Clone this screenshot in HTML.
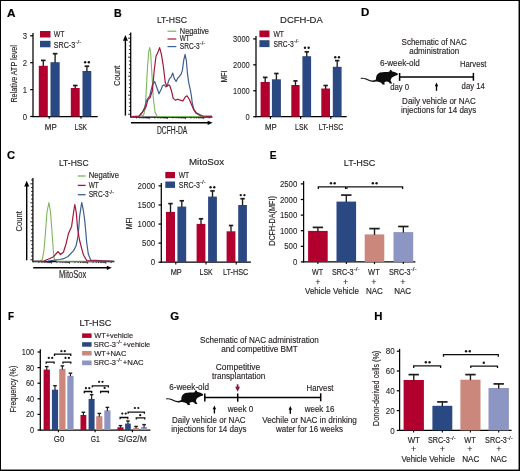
<!DOCTYPE html>
<html><head><meta charset="utf-8"><style>
html,body{margin:0;padding:0;background:#fff;overflow:hidden}
svg{display:block}
text{font-family:"Liberation Sans",sans-serif}
</style></head><body>
<svg width="520" height="471" viewBox="0 0 520 471">
<rect x="0" y="0" width="520" height="471" fill="#000"/>
<rect x="1" y="1" width="517.55" height="468.55" fill="#fff"/>
<defs><filter id="bl" x="0" y="0" width="520" height="471" filterUnits="userSpaceOnUse"><feGaussianBlur stdDeviation="0.3"/></filter></defs>
<g filter="url(#bl)">
<text x="7" y="16.8" font-size="11.5" fill="#000" font-weight="bold" textLength="8.5" lengthAdjust="spacingAndGlyphs" stroke="#000" stroke-width="0.2">A</text>
<text x="113.9" y="16.6" font-size="11.5" fill="#000" font-weight="bold" textLength="7.7" lengthAdjust="spacingAndGlyphs" stroke="#000" stroke-width="0.2">B</text>
<text x="361.1" y="16.3" font-size="11.5" fill="#000" font-weight="bold" textLength="8.3" lengthAdjust="spacingAndGlyphs" stroke="#000" stroke-width="0.2">D</text>
<text x="7.1" y="159.2" font-size="11.5" fill="#000" font-weight="bold" textLength="8" lengthAdjust="spacingAndGlyphs" stroke="#000" stroke-width="0.2">C</text>
<text x="269.8" y="159.2" font-size="11.5" fill="#000" font-weight="bold" textLength="6.8" lengthAdjust="spacingAndGlyphs" stroke="#000" stroke-width="0.2">E</text>
<text x="7.9" y="319.6" font-size="11.5" fill="#000" font-weight="bold" textLength="6" lengthAdjust="spacingAndGlyphs" stroke="#000" stroke-width="0.2">F</text>
<text x="170.3" y="319.7" font-size="11.5" fill="#000" font-weight="bold" textLength="8.9" lengthAdjust="spacingAndGlyphs" stroke="#000" stroke-width="0.2">G</text>
<text x="374.2" y="319.6" font-size="11.5" fill="#000" font-weight="bold" textLength="8.2" lengthAdjust="spacingAndGlyphs" stroke="#000" stroke-width="0.2">H</text>
<line x1="33" y1="33" x2="33" y2="117.1" stroke="#000" stroke-width="1.25"/>
<line x1="30.2" y1="116.5" x2="33" y2="116.5" stroke="#000" stroke-width="1.25"/>
<text x="22.7" y="119.6" font-size="9.4" fill="#231f20" textLength="4.3" lengthAdjust="spacingAndGlyphs" stroke="#231f20" stroke-width="0.1">0</text>
<line x1="30.2" y1="89.6" x2="33" y2="89.6" stroke="#000" stroke-width="1.25"/>
<text x="22.7" y="92.7" font-size="9.4" fill="#231f20" textLength="4.3" lengthAdjust="spacingAndGlyphs" stroke="#231f20" stroke-width="0.1">1</text>
<line x1="30.2" y1="62.7" x2="33" y2="62.7" stroke="#000" stroke-width="1.25"/>
<text x="22.7" y="65.8" font-size="9.4" fill="#231f20" textLength="4.3" lengthAdjust="spacingAndGlyphs" stroke="#231f20" stroke-width="0.1">2</text>
<line x1="30.2" y1="35.8" x2="33" y2="35.8" stroke="#000" stroke-width="1.25"/>
<text x="22.7" y="38.9" font-size="9.4" fill="#231f20" textLength="4.3" lengthAdjust="spacingAndGlyphs" stroke="#231f20" stroke-width="0.1">3</text>
<line x1="32.4" y1="116.5" x2="97.7" y2="116.5" stroke="#000" stroke-width="1.25"/>
<line x1="49.2" y1="116.5" x2="49.2" y2="118.7" stroke="#000" stroke-width="1.1"/>
<line x1="81" y1="116.5" x2="81" y2="118.7" stroke="#000" stroke-width="1.1"/>
<rect x="38.8" y="65.8" width="9" height="50.7" fill="#b1002d"/>
<line x1="43.3" y1="60.4" x2="43.3" y2="66.3" stroke="#1c1c1c" stroke-width="1.35"/>
<line x1="41" y1="60.4" x2="45.6" y2="60.4" stroke="#1c1c1c" stroke-width="1.7"/>
<rect x="50.5" y="62.2" width="9.2" height="54.3" fill="#2c4883"/>
<line x1="55.1" y1="53.7" x2="55.1" y2="62.7" stroke="#1c1c1c" stroke-width="1.35"/>
<line x1="52.8" y1="53.7" x2="57.4" y2="53.7" stroke="#1c1c1c" stroke-width="1.7"/>
<rect x="70.8" y="88" width="8.9" height="28.5" fill="#b1002d"/>
<line x1="75.25" y1="85.5" x2="75.25" y2="88.5" stroke="#1c1c1c" stroke-width="1.35"/>
<line x1="72.95" y1="85.5" x2="77.55" y2="85.5" stroke="#1c1c1c" stroke-width="1.7"/>
<rect x="82.5" y="71" width="8.8" height="45.5" fill="#2c4883"/>
<line x1="86.9" y1="66.2" x2="86.9" y2="71.5" stroke="#1c1c1c" stroke-width="1.35"/>
<line x1="84.6" y1="66.2" x2="89.2" y2="66.2" stroke="#1c1c1c" stroke-width="1.7"/>
<circle cx="85.15" cy="62.2" r="1.2" fill="#161616"/>
<circle cx="88.85" cy="62.2" r="1.2" fill="#161616"/>
<rect x="40" y="31" width="10.5" height="6.5" fill="#b1002d"/>
<rect x="40" y="40.8" width="10.5" height="6.5" fill="#2c4883"/>
<text x="53.7" y="36.9" font-size="9.2" fill="#231f20" textLength="10.7" lengthAdjust="spacingAndGlyphs" stroke="#231f20" stroke-width="0.16">WT</text>
<text x="53.7" y="47.6" font-size="9.2" fill="#231f20" textLength="21.57" lengthAdjust="spacingAndGlyphs" stroke="#231f20" stroke-width="0.16">SRC-3</text>
<text x="75.47" y="43.92" font-size="6.26" fill="#231f20" textLength="5.73" lengthAdjust="spacingAndGlyphs" stroke="#231f20" stroke-width="0.16">-/-</text>
<text x="44.8" y="129.6" font-size="8.4" fill="#231f20" textLength="11.9" lengthAdjust="spacingAndGlyphs" stroke="#231f20" stroke-width="0.16">MP</text>
<text x="74.4" y="129.6" font-size="8.4" fill="#231f20" textLength="12.7" lengthAdjust="spacingAndGlyphs" stroke="#231f20" stroke-width="0.16">LSK</text>
<text transform="translate(13.7,73.9) rotate(-90)" x="0" y="3.24" font-size="9" text-anchor="middle" textLength="57.3" lengthAdjust="spacingAndGlyphs" fill="#231f20" stroke="#231f20" stroke-width="0.16">Relative ATP level</text>
<line x1="125.4" y1="38" x2="125.4" y2="115.6" stroke="#000" stroke-width="1.4"/>
<path d="M122.9 40.8L125.4 35L127.9 40.8Z" fill="#000" stroke="none" stroke-width="1" />
<line x1="130.7" y1="32.4" x2="130.7" y2="117.6" stroke="#000" stroke-width="1.25"/>
<line x1="128.9" y1="34.4" x2="130.7" y2="34.4" stroke="#000" stroke-width="0.85"/>
<line x1="128.1" y1="38.2" x2="130.7" y2="38.2" stroke="#000" stroke-width="0.85"/>
<line x1="128.9" y1="42" x2="130.7" y2="42" stroke="#000" stroke-width="0.85"/>
<line x1="128.9" y1="45.8" x2="130.7" y2="45.8" stroke="#000" stroke-width="0.85"/>
<line x1="128.9" y1="49.6" x2="130.7" y2="49.6" stroke="#000" stroke-width="0.85"/>
<line x1="128.9" y1="53.4" x2="130.7" y2="53.4" stroke="#000" stroke-width="0.85"/>
<line x1="128.1" y1="57.2" x2="130.7" y2="57.2" stroke="#000" stroke-width="0.85"/>
<line x1="128.9" y1="61" x2="130.7" y2="61" stroke="#000" stroke-width="0.85"/>
<line x1="128.9" y1="64.8" x2="130.7" y2="64.8" stroke="#000" stroke-width="0.85"/>
<line x1="128.9" y1="68.6" x2="130.7" y2="68.6" stroke="#000" stroke-width="0.85"/>
<line x1="128.9" y1="72.4" x2="130.7" y2="72.4" stroke="#000" stroke-width="0.85"/>
<line x1="128.1" y1="76.2" x2="130.7" y2="76.2" stroke="#000" stroke-width="0.85"/>
<line x1="128.9" y1="80" x2="130.7" y2="80" stroke="#000" stroke-width="0.85"/>
<line x1="128.9" y1="83.8" x2="130.7" y2="83.8" stroke="#000" stroke-width="0.85"/>
<line x1="128.9" y1="87.6" x2="130.7" y2="87.6" stroke="#000" stroke-width="0.85"/>
<line x1="128.9" y1="91.4" x2="130.7" y2="91.4" stroke="#000" stroke-width="0.85"/>
<line x1="128.1" y1="95.2" x2="130.7" y2="95.2" stroke="#000" stroke-width="0.85"/>
<line x1="128.9" y1="99" x2="130.7" y2="99" stroke="#000" stroke-width="0.85"/>
<line x1="128.9" y1="102.8" x2="130.7" y2="102.8" stroke="#000" stroke-width="0.85"/>
<line x1="128.9" y1="106.6" x2="130.7" y2="106.6" stroke="#000" stroke-width="0.85"/>
<line x1="128.9" y1="110.4" x2="130.7" y2="110.4" stroke="#000" stroke-width="0.85"/>
<line x1="128.1" y1="114.2" x2="130.7" y2="114.2" stroke="#000" stroke-width="0.85"/>
<line x1="130.7" y1="117.1" x2="212.4" y2="117.1" stroke="#000" stroke-width="1.25"/>
<line x1="136.57" y1="117.1" x2="136.57" y2="118.5" stroke="#000" stroke-width="0.7"/>
<line x1="139.76" y1="117.1" x2="139.76" y2="118.5" stroke="#000" stroke-width="0.7"/>
<line x1="142.03" y1="117.1" x2="142.03" y2="118.5" stroke="#000" stroke-width="0.7"/>
<line x1="143.79" y1="117.1" x2="143.79" y2="118.5" stroke="#000" stroke-width="0.7"/>
<line x1="145.23" y1="117.1" x2="145.23" y2="118.5" stroke="#000" stroke-width="0.7"/>
<line x1="146.44" y1="117.1" x2="146.44" y2="118.5" stroke="#000" stroke-width="0.7"/>
<line x1="147.5" y1="117.1" x2="147.5" y2="118.5" stroke="#000" stroke-width="0.7"/>
<line x1="148.42" y1="117.1" x2="148.42" y2="118.5" stroke="#000" stroke-width="0.7"/>
<line x1="149.26" y1="117.1" x2="149.26" y2="119.1" stroke="#000" stroke-width="0.7"/>
<line x1="154.72" y1="117.1" x2="154.72" y2="118.5" stroke="#000" stroke-width="0.7"/>
<line x1="157.92" y1="117.1" x2="157.92" y2="118.5" stroke="#000" stroke-width="0.7"/>
<line x1="160.19" y1="117.1" x2="160.19" y2="118.5" stroke="#000" stroke-width="0.7"/>
<line x1="161.95" y1="117.1" x2="161.95" y2="118.5" stroke="#000" stroke-width="0.7"/>
<line x1="163.38" y1="117.1" x2="163.38" y2="118.5" stroke="#000" stroke-width="0.7"/>
<line x1="164.6" y1="117.1" x2="164.6" y2="118.5" stroke="#000" stroke-width="0.7"/>
<line x1="165.65" y1="117.1" x2="165.65" y2="118.5" stroke="#000" stroke-width="0.7"/>
<line x1="166.58" y1="117.1" x2="166.58" y2="118.5" stroke="#000" stroke-width="0.7"/>
<line x1="167.41" y1="117.1" x2="167.41" y2="119.1" stroke="#000" stroke-width="0.7"/>
<line x1="172.88" y1="117.1" x2="172.88" y2="118.5" stroke="#000" stroke-width="0.7"/>
<line x1="176.07" y1="117.1" x2="176.07" y2="118.5" stroke="#000" stroke-width="0.7"/>
<line x1="178.34" y1="117.1" x2="178.34" y2="118.5" stroke="#000" stroke-width="0.7"/>
<line x1="180.1" y1="117.1" x2="180.1" y2="118.5" stroke="#000" stroke-width="0.7"/>
<line x1="181.54" y1="117.1" x2="181.54" y2="118.5" stroke="#000" stroke-width="0.7"/>
<line x1="182.75" y1="117.1" x2="182.75" y2="118.5" stroke="#000" stroke-width="0.7"/>
<line x1="183.81" y1="117.1" x2="183.81" y2="118.5" stroke="#000" stroke-width="0.7"/>
<line x1="184.74" y1="117.1" x2="184.74" y2="118.5" stroke="#000" stroke-width="0.7"/>
<line x1="185.57" y1="117.1" x2="185.57" y2="119.1" stroke="#000" stroke-width="0.7"/>
<line x1="191.03" y1="117.1" x2="191.03" y2="118.5" stroke="#000" stroke-width="0.7"/>
<line x1="194.23" y1="117.1" x2="194.23" y2="118.5" stroke="#000" stroke-width="0.7"/>
<line x1="196.5" y1="117.1" x2="196.5" y2="118.5" stroke="#000" stroke-width="0.7"/>
<line x1="198.26" y1="117.1" x2="198.26" y2="118.5" stroke="#000" stroke-width="0.7"/>
<line x1="199.69" y1="117.1" x2="199.69" y2="118.5" stroke="#000" stroke-width="0.7"/>
<line x1="200.91" y1="117.1" x2="200.91" y2="118.5" stroke="#000" stroke-width="0.7"/>
<line x1="201.96" y1="117.1" x2="201.96" y2="118.5" stroke="#000" stroke-width="0.7"/>
<line x1="202.89" y1="117.1" x2="202.89" y2="118.5" stroke="#000" stroke-width="0.7"/>
<line x1="203.72" y1="117.1" x2="203.72" y2="119.1" stroke="#000" stroke-width="0.7"/>
<line x1="209.19" y1="117.1" x2="209.19" y2="118.5" stroke="#000" stroke-width="0.7"/>
<line x1="131" y1="122.8" x2="209.6" y2="122.8" stroke="#000" stroke-width="1.4"/>
<path d="M207.6 120.7L212.6 122.8L207.6 124.9Z" fill="#000" stroke="none" stroke-width="1" />
<text x="157" y="133.5" font-size="10" fill="#231f20" textLength="30.3" lengthAdjust="spacingAndGlyphs" stroke="#231f20" stroke-width="0.16">DCFH-DA</text>
<text transform="translate(116.7,75.8) rotate(-90)" x="0" y="3.31" font-size="9.2" text-anchor="middle" textLength="20.4" lengthAdjust="spacingAndGlyphs" fill="#231f20" stroke="#231f20" stroke-width="0.16">Count</text>
<text x="156.9" y="22.9" font-size="9.7" fill="#231f20" textLength="30.1" lengthAdjust="spacingAndGlyphs" stroke="#231f20" stroke-width="0.16">LT-HSC</text>
<line x1="167.5" y1="31.2" x2="176.3" y2="31.2" stroke="#7cb65c" stroke-width="1.2"/>
<line x1="167.5" y1="39" x2="176.3" y2="39" stroke="#a4163a" stroke-width="1.2"/>
<line x1="167.5" y1="46.6" x2="176.3" y2="46.6" stroke="#3d5f94" stroke-width="1.2"/>
<text x="179.8" y="33.8" font-size="9.1" fill="#231f20" textLength="29.2" lengthAdjust="spacingAndGlyphs" stroke="#231f20" stroke-width="0.16">Negative</text>
<text x="179.8" y="41" font-size="9.1" fill="#231f20" textLength="10" lengthAdjust="spacingAndGlyphs" stroke="#231f20" stroke-width="0.16">WT</text>
<text x="179.8" y="48.8" font-size="9.1" fill="#231f20" textLength="19.8" lengthAdjust="spacingAndGlyphs" stroke="#231f20" stroke-width="0.16">SRC-3</text>
<text x="199.8" y="45.16" font-size="6.19" fill="#231f20" textLength="5.2" lengthAdjust="spacingAndGlyphs" stroke="#231f20" stroke-width="0.16">-/-</text>
<path d="M131.5 116.6 L140 116.4 L143.5 115.2 L145.1 109.5 L146 95 L147.5 67 L148.7 52 L149.7 47.6 L150.6 52 L151.5 67 L153.3 97.8 L155 112 L157 116.2 L170 116.5 L212 116.6" fill="none" stroke="#7cb65c" stroke-width="1.1" stroke-linejoin="round"/>
<path d="M131.5 116.6 L139 116.3 L142 113 L144.2 108.6 L147 99.6 L149.7 96 L152.4 85 L154.7 81.5 L156.9 87.8 L159 93.8 L161.4 88.7 L162.5 85.7 L164.2 84.8 L165.9 87 L167.6 84 L169.3 78.9 L171 77.2 L172.7 73 L174.4 78.9 L176.1 81.4 L177.8 78 L179.5 76.4 L181.2 73.8 L182.4 70.4 L183.7 60.3 L185.1 54.3 L186.3 60.3 L187.5 73.8 L188.8 83.1 L190.2 89.1 L191.4 95.8 L192.2 102.6 L193.9 109.4 L196.4 112.8 L199.8 114.5 L203 116 L212 116.3" fill="none" stroke="#3d5f94" stroke-width="1.2" stroke-linejoin="round"/>
<path d="M131.5 116.6 L138.8 116.2 L142.4 112.2 L146 106.8 L147.9 99.6 L150 97.8 L152.4 90.5 L154.2 70.7 L156 56.2 L157.8 52.6 L159.6 47.6 L161.4 54.4 L163.2 65.3 L165.2 82 L166.8 86.5 L168.5 84.8 L169.8 85.7 L171.5 90.8 L173.2 98.4 L175.3 100.1 L177.8 99.2 L180.3 100.1 L182.9 100.9 L185.4 96.7 L187.1 95.8 L189.2 99.2 L191.4 104.3 L193.6 109.4 L195.6 112.8 L198.1 114.5 L201 116 L212 116.4" fill="none" stroke="#a4163a" stroke-width="1.2" stroke-linejoin="round"/>
<line x1="256" y1="36.11" x2="256" y2="117.3" stroke="#000" stroke-width="1.25"/>
<line x1="253.2" y1="116.7" x2="256" y2="116.7" stroke="#000" stroke-width="1.25"/>
<text x="245.55" y="119.74" font-size="9.2" fill="#231f20" textLength="4.15" lengthAdjust="spacingAndGlyphs" stroke="#231f20" stroke-width="0.1">0</text>
<line x1="253.2" y1="90.77" x2="256" y2="90.77" stroke="#000" stroke-width="1.25"/>
<text x="233.1" y="93.81" font-size="9.2" fill="#231f20" textLength="16.6" lengthAdjust="spacingAndGlyphs" stroke="#231f20" stroke-width="0.1">1000</text>
<line x1="253.2" y1="64.84" x2="256" y2="64.84" stroke="#000" stroke-width="1.25"/>
<text x="233.1" y="67.88" font-size="9.2" fill="#231f20" textLength="16.6" lengthAdjust="spacingAndGlyphs" stroke="#231f20" stroke-width="0.1">2000</text>
<line x1="253.2" y1="38.91" x2="256" y2="38.91" stroke="#000" stroke-width="1.25"/>
<text x="233.1" y="41.95" font-size="9.2" fill="#231f20" textLength="16.6" lengthAdjust="spacingAndGlyphs" stroke="#231f20" stroke-width="0.1">3000</text>
<line x1="255.4" y1="116.7" x2="346.7" y2="116.7" stroke="#000" stroke-width="1.25"/>
<line x1="270.4" y1="116.7" x2="270.4" y2="118.9" stroke="#000" stroke-width="1.1"/>
<line x1="300.6" y1="116.7" x2="300.6" y2="118.9" stroke="#000" stroke-width="1.1"/>
<line x1="330.8" y1="116.7" x2="330.8" y2="118.9" stroke="#000" stroke-width="1.1"/>
<rect x="260.6" y="82" width="9.2" height="34.7" fill="#b1002d"/>
<line x1="265.2" y1="77.4" x2="265.2" y2="82.5" stroke="#1c1c1c" stroke-width="1.35"/>
<line x1="262.9" y1="77.4" x2="267.5" y2="77.4" stroke="#1c1c1c" stroke-width="1.7"/>
<rect x="271.9" y="79.3" width="9" height="37.4" fill="#2c4883"/>
<line x1="276.4" y1="73.5" x2="276.4" y2="79.8" stroke="#1c1c1c" stroke-width="1.35"/>
<line x1="274.15" y1="73.5" x2="278.65" y2="73.5" stroke="#1c1c1c" stroke-width="1.7"/>
<rect x="291.3" y="85" width="8.3" height="31.7" fill="#b1002d"/>
<line x1="295.45" y1="80.9" x2="295.45" y2="85.5" stroke="#1c1c1c" stroke-width="1.35"/>
<line x1="293.38" y1="80.9" x2="297.53" y2="80.9" stroke="#1c1c1c" stroke-width="1.7"/>
<rect x="302.4" y="56.2" width="8.7" height="60.5" fill="#2c4883"/>
<line x1="306.75" y1="51.8" x2="306.75" y2="56.7" stroke="#1c1c1c" stroke-width="1.35"/>
<line x1="304.57" y1="51.8" x2="308.93" y2="51.8" stroke="#1c1c1c" stroke-width="1.7"/>
<rect x="321.3" y="88.5" width="8.7" height="28.2" fill="#b1002d"/>
<line x1="325.65" y1="85.5" x2="325.65" y2="89" stroke="#1c1c1c" stroke-width="1.35"/>
<line x1="323.47" y1="85.5" x2="327.82" y2="85.5" stroke="#1c1c1c" stroke-width="1.7"/>
<rect x="332.8" y="66.8" width="8.8" height="49.9" fill="#2c4883"/>
<line x1="337.2" y1="60.6" x2="337.2" y2="67.3" stroke="#1c1c1c" stroke-width="1.35"/>
<line x1="335" y1="60.6" x2="339.4" y2="60.6" stroke="#1c1c1c" stroke-width="1.7"/>
<circle cx="304.95" cy="47.7" r="1.2" fill="#161616"/>
<circle cx="308.65" cy="47.7" r="1.2" fill="#161616"/>
<circle cx="335.25" cy="57.3" r="1.2" fill="#161616"/>
<circle cx="338.95" cy="57.3" r="1.2" fill="#161616"/>
<rect x="259.4" y="30.5" width="10.1" height="6.7" fill="#b1002d"/>
<rect x="259.4" y="40.2" width="10.1" height="6.9" fill="#2c4883"/>
<text x="273.5" y="36.8" font-size="9.2" fill="#231f20" textLength="10.5" lengthAdjust="spacingAndGlyphs" stroke="#231f20" stroke-width="0.16">WT</text>
<text x="273.5" y="46.7" font-size="9.2" fill="#231f20" textLength="20.19" lengthAdjust="spacingAndGlyphs" stroke="#231f20" stroke-width="0.16">SRC-3</text>
<text x="293.89" y="43.02" font-size="6.26" fill="#231f20" textLength="5.31" lengthAdjust="spacingAndGlyphs" stroke="#231f20" stroke-width="0.16">-/-</text>
<text x="280.1" y="23" font-size="9.9" fill="#231f20" textLength="42.7" lengthAdjust="spacingAndGlyphs" stroke="#231f20" stroke-width="0.16">DCFH-DA</text>
<text x="264.9" y="129.6" font-size="8.4" fill="#231f20" textLength="11.8" lengthAdjust="spacingAndGlyphs" stroke="#231f20" stroke-width="0.16">MP</text>
<text x="295.1" y="129.6" font-size="8.4" fill="#231f20" textLength="13.1" lengthAdjust="spacingAndGlyphs" stroke="#231f20" stroke-width="0.16">LSK</text>
<text x="318.8" y="129.6" font-size="8.4" fill="#231f20" textLength="24.5" lengthAdjust="spacingAndGlyphs" stroke="#231f20" stroke-width="0.16">LT-HSC</text>
<text transform="translate(223.4,76.5) rotate(-90)" x="0" y="3.24" font-size="9" text-anchor="middle" textLength="12" lengthAdjust="spacingAndGlyphs" fill="#231f20" stroke="#231f20" stroke-width="0.16">MFI</text>
<text x="401.6" y="44.5" font-size="9" fill="#231f20" textLength="65.1" lengthAdjust="spacingAndGlyphs" stroke="#231f20" stroke-width="0.14">Schematic of NAC</text>
<text x="409.2" y="53.5" font-size="9" fill="#231f20" textLength="49.9" lengthAdjust="spacingAndGlyphs" stroke="#231f20" stroke-width="0.14">administration</text>
<text x="380" y="66.2" font-size="9" fill="#231f20" textLength="39.8" lengthAdjust="spacingAndGlyphs" stroke="#231f20" stroke-width="0.14">6-week-old</text>
<path transform="translate(0,0)" d="M360.8 77.9 C363.5 77.4 366 78.2 368.5 79.5 C371 80.7 373.5 80.9 376.0 79.6 C375.7 76.6 376.9 73.6 379.9 72.5 C382.5 71.7 385.5 71.8 387.6 72.1 L389.3 71.8 C389.6 70.8 390.1 69.8 390.6 69.8 C391.2 69.9 391.7 70.6 392.0 71.5 C394.2 71.9 396.5 72.6 397.6 73.6 C398.2 74.3 397.8 75.0 397.0 75.3 C396.0 75.6 394.5 76.0 393.4 76.7 C392.4 77.2 391.6 77.7 391.2 78.4 L390.6 80.4 L391.6 82.4 L392.2 83.4 L389.8 83.4 L389.0 82.2 C388.3 81.8 387.5 81.6 387.0 81.6 C386.0 81.7 385.2 81.8 384.7 81.9 L384.3 82.8 L384.8 84.5 L382.4 84.6 L381.2 82.8 C380.4 82.4 379.5 82.1 378.9 81.9 C377.5 81.6 376.6 81.6 376.0 81.6 C373.5 82.4 370.5 81.8 368.0 80.5 C365.5 79.2 363.3 78.6 360.9 78.9 Z" fill="#0d0d0d"/>
<line x1="399.6" y1="77" x2="473.4" y2="77" stroke="#000" stroke-width="1.5"/>
<line x1="399.6" y1="73" x2="399.6" y2="80.9" stroke="#000" stroke-width="1.5"/>
<line x1="473.4" y1="72.9" x2="473.4" y2="80.7" stroke="#000" stroke-width="1.5"/>
<text x="390.2" y="89.7" font-size="9" fill="#231f20" textLength="19" lengthAdjust="spacingAndGlyphs" stroke="#231f20" stroke-width="0.14">day 0</text>
<line x1="436.5" y1="84.9" x2="436.5" y2="90.8" stroke="#000" stroke-width="1.35"/>
<path d="M434.8 86.2L436.5 82.4L438.2 86.2Z" fill="#000" stroke="none" stroke-width="1" />
<text x="460" y="66.6" font-size="9" fill="#231f20" textLength="26.4" lengthAdjust="spacingAndGlyphs" stroke="#231f20" stroke-width="0.14">Harvest</text>
<text x="461.6" y="89.2" font-size="9" fill="#231f20" textLength="23.2" lengthAdjust="spacingAndGlyphs" stroke="#231f20" stroke-width="0.14">day 14</text>
<text x="402.1" y="103.8" font-size="9" fill="#231f20" textLength="73.6" lengthAdjust="spacingAndGlyphs" stroke="#231f20" stroke-width="0.14">Daily vehicle or NAC</text>
<text x="401.1" y="112.6" font-size="9" fill="#231f20" textLength="75.2" lengthAdjust="spacingAndGlyphs" stroke="#231f20" stroke-width="0.14">injections for 14 days</text>
<line x1="26.7" y1="183.8" x2="26.7" y2="260.2" stroke="#000" stroke-width="1.4"/>
<path d="M24.2 186.6L26.7 180.8L29.2 186.6Z" fill="#000" stroke="none" stroke-width="1" />
<line x1="32.9" y1="178" x2="32.9" y2="262.2" stroke="#000" stroke-width="1.25"/>
<line x1="31.1" y1="180" x2="32.9" y2="180" stroke="#000" stroke-width="0.85"/>
<line x1="30.3" y1="183.8" x2="32.9" y2="183.8" stroke="#000" stroke-width="0.85"/>
<line x1="31.1" y1="187.6" x2="32.9" y2="187.6" stroke="#000" stroke-width="0.85"/>
<line x1="31.1" y1="191.4" x2="32.9" y2="191.4" stroke="#000" stroke-width="0.85"/>
<line x1="31.1" y1="195.2" x2="32.9" y2="195.2" stroke="#000" stroke-width="0.85"/>
<line x1="31.1" y1="199" x2="32.9" y2="199" stroke="#000" stroke-width="0.85"/>
<line x1="30.3" y1="202.8" x2="32.9" y2="202.8" stroke="#000" stroke-width="0.85"/>
<line x1="31.1" y1="206.6" x2="32.9" y2="206.6" stroke="#000" stroke-width="0.85"/>
<line x1="31.1" y1="210.4" x2="32.9" y2="210.4" stroke="#000" stroke-width="0.85"/>
<line x1="31.1" y1="214.2" x2="32.9" y2="214.2" stroke="#000" stroke-width="0.85"/>
<line x1="31.1" y1="218" x2="32.9" y2="218" stroke="#000" stroke-width="0.85"/>
<line x1="30.3" y1="221.8" x2="32.9" y2="221.8" stroke="#000" stroke-width="0.85"/>
<line x1="31.1" y1="225.6" x2="32.9" y2="225.6" stroke="#000" stroke-width="0.85"/>
<line x1="31.1" y1="229.4" x2="32.9" y2="229.4" stroke="#000" stroke-width="0.85"/>
<line x1="31.1" y1="233.2" x2="32.9" y2="233.2" stroke="#000" stroke-width="0.85"/>
<line x1="31.1" y1="237" x2="32.9" y2="237" stroke="#000" stroke-width="0.85"/>
<line x1="30.3" y1="240.8" x2="32.9" y2="240.8" stroke="#000" stroke-width="0.85"/>
<line x1="31.1" y1="244.6" x2="32.9" y2="244.6" stroke="#000" stroke-width="0.85"/>
<line x1="31.1" y1="248.4" x2="32.9" y2="248.4" stroke="#000" stroke-width="0.85"/>
<line x1="31.1" y1="252.2" x2="32.9" y2="252.2" stroke="#000" stroke-width="0.85"/>
<line x1="31.1" y1="256" x2="32.9" y2="256" stroke="#000" stroke-width="0.85"/>
<line x1="30.3" y1="259.8" x2="32.9" y2="259.8" stroke="#000" stroke-width="0.85"/>
<line x1="32.9" y1="261.7" x2="114.4" y2="261.7" stroke="#000" stroke-width="1.25"/>
<line x1="38.75" y1="261.7" x2="38.75" y2="263.1" stroke="#000" stroke-width="0.7"/>
<line x1="41.94" y1="261.7" x2="41.94" y2="263.1" stroke="#000" stroke-width="0.7"/>
<line x1="44.2" y1="261.7" x2="44.2" y2="263.1" stroke="#000" stroke-width="0.7"/>
<line x1="45.96" y1="261.7" x2="45.96" y2="263.1" stroke="#000" stroke-width="0.7"/>
<line x1="47.39" y1="261.7" x2="47.39" y2="263.1" stroke="#000" stroke-width="0.7"/>
<line x1="48.61" y1="261.7" x2="48.61" y2="263.1" stroke="#000" stroke-width="0.7"/>
<line x1="49.66" y1="261.7" x2="49.66" y2="263.1" stroke="#000" stroke-width="0.7"/>
<line x1="50.58" y1="261.7" x2="50.58" y2="263.1" stroke="#000" stroke-width="0.7"/>
<line x1="51.41" y1="261.7" x2="51.41" y2="263.7" stroke="#000" stroke-width="0.7"/>
<line x1="56.86" y1="261.7" x2="56.86" y2="263.1" stroke="#000" stroke-width="0.7"/>
<line x1="60.05" y1="261.7" x2="60.05" y2="263.1" stroke="#000" stroke-width="0.7"/>
<line x1="62.32" y1="261.7" x2="62.32" y2="263.1" stroke="#000" stroke-width="0.7"/>
<line x1="64.07" y1="261.7" x2="64.07" y2="263.1" stroke="#000" stroke-width="0.7"/>
<line x1="65.5" y1="261.7" x2="65.5" y2="263.1" stroke="#000" stroke-width="0.7"/>
<line x1="66.72" y1="261.7" x2="66.72" y2="263.1" stroke="#000" stroke-width="0.7"/>
<line x1="67.77" y1="261.7" x2="67.77" y2="263.1" stroke="#000" stroke-width="0.7"/>
<line x1="68.69" y1="261.7" x2="68.69" y2="263.1" stroke="#000" stroke-width="0.7"/>
<line x1="69.52" y1="261.7" x2="69.52" y2="263.7" stroke="#000" stroke-width="0.7"/>
<line x1="74.97" y1="261.7" x2="74.97" y2="263.1" stroke="#000" stroke-width="0.7"/>
<line x1="78.16" y1="261.7" x2="78.16" y2="263.1" stroke="#000" stroke-width="0.7"/>
<line x1="80.43" y1="261.7" x2="80.43" y2="263.1" stroke="#000" stroke-width="0.7"/>
<line x1="82.18" y1="261.7" x2="82.18" y2="263.1" stroke="#000" stroke-width="0.7"/>
<line x1="83.62" y1="261.7" x2="83.62" y2="263.1" stroke="#000" stroke-width="0.7"/>
<line x1="84.83" y1="261.7" x2="84.83" y2="263.1" stroke="#000" stroke-width="0.7"/>
<line x1="85.88" y1="261.7" x2="85.88" y2="263.1" stroke="#000" stroke-width="0.7"/>
<line x1="86.8" y1="261.7" x2="86.8" y2="263.1" stroke="#000" stroke-width="0.7"/>
<line x1="87.63" y1="261.7" x2="87.63" y2="263.7" stroke="#000" stroke-width="0.7"/>
<line x1="93.09" y1="261.7" x2="93.09" y2="263.1" stroke="#000" stroke-width="0.7"/>
<line x1="96.27" y1="261.7" x2="96.27" y2="263.1" stroke="#000" stroke-width="0.7"/>
<line x1="98.54" y1="261.7" x2="98.54" y2="263.1" stroke="#000" stroke-width="0.7"/>
<line x1="100.29" y1="261.7" x2="100.29" y2="263.1" stroke="#000" stroke-width="0.7"/>
<line x1="101.73" y1="261.7" x2="101.73" y2="263.1" stroke="#000" stroke-width="0.7"/>
<line x1="102.94" y1="261.7" x2="102.94" y2="263.1" stroke="#000" stroke-width="0.7"/>
<line x1="103.99" y1="261.7" x2="103.99" y2="263.1" stroke="#000" stroke-width="0.7"/>
<line x1="104.92" y1="261.7" x2="104.92" y2="263.1" stroke="#000" stroke-width="0.7"/>
<line x1="105.74" y1="261.7" x2="105.74" y2="263.7" stroke="#000" stroke-width="0.7"/>
<line x1="111.2" y1="261.7" x2="111.2" y2="263.1" stroke="#000" stroke-width="0.7"/>
<line x1="33.2" y1="267.8" x2="108.8" y2="267.8" stroke="#000" stroke-width="1.4"/>
<path d="M106.8 265.7L111.8 267.8L106.8 269.9Z" fill="#000" stroke="none" stroke-width="1" />
<text x="59" y="278.1" font-size="10" fill="#231f20" textLength="27.2" lengthAdjust="spacingAndGlyphs" stroke="#231f20" stroke-width="0.16">MitoSox</text>
<text transform="translate(18.6,221.3) rotate(-90)" x="0" y="3.31" font-size="9.2" text-anchor="middle" textLength="20.4" lengthAdjust="spacingAndGlyphs" fill="#231f20" stroke="#231f20" stroke-width="0.16">Count</text>
<text x="59" y="165.6" font-size="9.7" fill="#231f20" textLength="29.7" lengthAdjust="spacingAndGlyphs" stroke="#231f20" stroke-width="0.16">LT-HSC</text>
<line x1="77.8" y1="176" x2="85.6" y2="176" stroke="#7cb65c" stroke-width="1.3"/>
<line x1="77.8" y1="185.4" x2="85.6" y2="185.4" stroke="#a4163a" stroke-width="1.3"/>
<line x1="77.8" y1="194.7" x2="85.6" y2="194.7" stroke="#3d5f94" stroke-width="1.3"/>
<text x="88.7" y="178.4" font-size="9.1" fill="#231f20" textLength="30.3" lengthAdjust="spacingAndGlyphs" stroke="#231f20" stroke-width="0.16">Negative</text>
<text x="88.7" y="187.9" font-size="9.1" fill="#231f20" textLength="10" lengthAdjust="spacingAndGlyphs" stroke="#231f20" stroke-width="0.16">WT</text>
<text x="88.7" y="197.4" font-size="9.1" fill="#231f20" textLength="19.88" lengthAdjust="spacingAndGlyphs" stroke="#231f20" stroke-width="0.16">SRC-3</text>
<text x="108.78" y="193.76" font-size="6.19" fill="#231f20" textLength="5.22" lengthAdjust="spacingAndGlyphs" stroke="#231f20" stroke-width="0.16">-/-</text>
<path d="M33.8 261.3 L40 261.1 L42.3 259.5 L44 250 L45.5 232 L47 212 L48.9 202.5 L50.5 212 L52 232 L53.3 250 L54.4 259.5 L57 261.2 L114 261.3" fill="none" stroke="#7cb65c" stroke-width="1.1" stroke-linejoin="round"/>
<path d="M33.8 261.3 L48 261 L55 260.2 L60 259.5 L63.5 258.7 L68 256.5 L73.6 250.6 L76 246 L77.6 238.5 L78.8 228 L79.6 216.3 L81.7 202.5 L83.3 210 L84.7 220.3 L85.8 232 L86.7 242.5 L88.3 254 L90.8 260.2 L114 261.3" fill="none" stroke="#3d5f94" stroke-width="1.2" stroke-linejoin="round"/>
<path d="M33.8 261.3 L44 261 L47.3 259.5 L50 258.5 L53.4 256.7 L55.5 254.5 L58 251.6 L60.5 254.5 L63.5 252 L66 244 L68.5 233.4 L71.6 226.4 L73.2 215 L74.8 204.5 L76.2 212 L77.6 228.4 L79.5 240 L81.7 248.6 L83.5 255 L86.7 260.5 L114 261.3" fill="none" stroke="#a4163a" stroke-width="1.2" stroke-linejoin="round"/>
<line x1="161.3" y1="183.1" x2="161.3" y2="262.8" stroke="#000" stroke-width="1.25"/>
<line x1="158.5" y1="262.2" x2="161.3" y2="262.2" stroke="#000" stroke-width="1.25"/>
<text x="150.8" y="265.24" font-size="9.2" fill="#231f20" textLength="4.4" lengthAdjust="spacingAndGlyphs" stroke="#231f20" stroke-width="0.1">0</text>
<line x1="158.5" y1="243.12" x2="161.3" y2="243.12" stroke="#000" stroke-width="1.25"/>
<text x="142" y="246.16" font-size="9.2" fill="#231f20" textLength="13.2" lengthAdjust="spacingAndGlyphs" stroke="#231f20" stroke-width="0.1">500</text>
<line x1="158.5" y1="224.05" x2="161.3" y2="224.05" stroke="#000" stroke-width="1.25"/>
<text x="137.6" y="227.09" font-size="9.2" fill="#231f20" textLength="17.6" lengthAdjust="spacingAndGlyphs" stroke="#231f20" stroke-width="0.1">1000</text>
<line x1="158.5" y1="204.97" x2="161.3" y2="204.97" stroke="#000" stroke-width="1.25"/>
<text x="137.6" y="208.01" font-size="9.2" fill="#231f20" textLength="17.6" lengthAdjust="spacingAndGlyphs" stroke="#231f20" stroke-width="0.1">1500</text>
<line x1="158.5" y1="185.9" x2="161.3" y2="185.9" stroke="#000" stroke-width="1.25"/>
<text x="137.6" y="188.94" font-size="9.2" fill="#231f20" textLength="17.6" lengthAdjust="spacingAndGlyphs" stroke="#231f20" stroke-width="0.1">2000</text>
<line x1="160.7" y1="262.2" x2="250.9" y2="262.2" stroke="#000" stroke-width="1.25"/>
<line x1="175.8" y1="262.2" x2="175.8" y2="264.4" stroke="#000" stroke-width="1.1"/>
<line x1="206" y1="262.2" x2="206" y2="264.4" stroke="#000" stroke-width="1.1"/>
<line x1="236.2" y1="262.2" x2="236.2" y2="264.4" stroke="#000" stroke-width="1.1"/>
<rect x="166" y="211.9" width="9" height="50.3" fill="#b1002d"/>
<line x1="170.5" y1="203.6" x2="170.5" y2="212.4" stroke="#1c1c1c" stroke-width="1.35"/>
<line x1="168.25" y1="203.6" x2="172.75" y2="203.6" stroke="#1c1c1c" stroke-width="1.7"/>
<rect x="177.4" y="206.6" width="8.8" height="55.6" fill="#2c4883"/>
<line x1="181.8" y1="200.8" x2="181.8" y2="207.1" stroke="#1c1c1c" stroke-width="1.35"/>
<line x1="179.6" y1="200.8" x2="184" y2="200.8" stroke="#1c1c1c" stroke-width="1.7"/>
<rect x="196.6" y="223.9" width="8.8" height="38.3" fill="#b1002d"/>
<line x1="201" y1="218.8" x2="201" y2="224.4" stroke="#1c1c1c" stroke-width="1.35"/>
<line x1="198.8" y1="218.8" x2="203.2" y2="218.8" stroke="#1c1c1c" stroke-width="1.7"/>
<rect x="208.1" y="196.6" width="8.8" height="65.6" fill="#2c4883"/>
<line x1="212.5" y1="190.9" x2="212.5" y2="197.1" stroke="#1c1c1c" stroke-width="1.35"/>
<line x1="210.3" y1="190.9" x2="214.7" y2="190.9" stroke="#1c1c1c" stroke-width="1.7"/>
<rect x="226.6" y="231.3" width="8.8" height="30.9" fill="#b1002d"/>
<line x1="231" y1="225.5" x2="231" y2="231.8" stroke="#1c1c1c" stroke-width="1.35"/>
<line x1="228.8" y1="225.5" x2="233.2" y2="225.5" stroke="#1c1c1c" stroke-width="1.7"/>
<rect x="238.2" y="205" width="8.7" height="57.2" fill="#2c4883"/>
<line x1="242.55" y1="198.7" x2="242.55" y2="205.5" stroke="#1c1c1c" stroke-width="1.35"/>
<line x1="240.38" y1="198.7" x2="244.73" y2="198.7" stroke="#1c1c1c" stroke-width="1.7"/>
<circle cx="210.55" cy="187.2" r="1.2" fill="#161616"/>
<circle cx="214.25" cy="187.2" r="1.2" fill="#161616"/>
<circle cx="240.75" cy="195.1" r="1.2" fill="#161616"/>
<circle cx="244.45" cy="195.1" r="1.2" fill="#161616"/>
<rect x="165.3" y="172" width="9.7" height="6.2" fill="#b1002d"/>
<rect x="165.3" y="181.5" width="9.7" height="6.4" fill="#2c4883"/>
<text x="178.7" y="178.3" font-size="9.2" fill="#231f20" textLength="10.5" lengthAdjust="spacingAndGlyphs" stroke="#231f20" stroke-width="0.16">WT</text>
<text x="178.7" y="187.8" font-size="9.2" fill="#231f20" textLength="21.19" lengthAdjust="spacingAndGlyphs" stroke="#231f20" stroke-width="0.16">SRC-3</text>
<text x="200.09" y="184.12" font-size="6.26" fill="#231f20" textLength="5.61" lengthAdjust="spacingAndGlyphs" stroke="#231f20" stroke-width="0.16">-/-</text>
<text x="189" y="165.3" font-size="9.9" fill="#231f20" textLength="35.1" lengthAdjust="spacingAndGlyphs" stroke="#231f20" stroke-width="0.16">MitoSox</text>
<text x="170.7" y="275" font-size="8.4" fill="#231f20" textLength="11.1" lengthAdjust="spacingAndGlyphs" stroke="#231f20" stroke-width="0.16">MP</text>
<text x="199.6" y="275" font-size="8.4" fill="#231f20" textLength="13.1" lengthAdjust="spacingAndGlyphs" stroke="#231f20" stroke-width="0.16">LSK</text>
<text x="223" y="275" font-size="8.4" fill="#231f20" textLength="25.3" lengthAdjust="spacingAndGlyphs" stroke="#231f20" stroke-width="0.16">LT-HSC</text>
<text transform="translate(128.4,223.3) rotate(-90)" x="0" y="3.24" font-size="9" text-anchor="middle" textLength="12" lengthAdjust="spacingAndGlyphs" fill="#231f20" stroke="#231f20" stroke-width="0.16">MFI</text>
<line x1="303.6" y1="181.1" x2="303.6" y2="262.5" stroke="#000" stroke-width="1.25"/>
<line x1="300.8" y1="261.9" x2="303.6" y2="261.9" stroke="#000" stroke-width="1.25"/>
<text x="292.95" y="264.94" font-size="9.2" fill="#231f20" textLength="4.35" lengthAdjust="spacingAndGlyphs" stroke="#231f20" stroke-width="0.1">0</text>
<line x1="300.8" y1="246.3" x2="303.6" y2="246.3" stroke="#000" stroke-width="1.25"/>
<text x="284.25" y="249.34" font-size="9.2" fill="#231f20" textLength="13.05" lengthAdjust="spacingAndGlyphs" stroke="#231f20" stroke-width="0.1">500</text>
<line x1="300.8" y1="230.7" x2="303.6" y2="230.7" stroke="#000" stroke-width="1.25"/>
<text x="279.9" y="233.74" font-size="9.2" fill="#231f20" textLength="17.4" lengthAdjust="spacingAndGlyphs" stroke="#231f20" stroke-width="0.1">1000</text>
<line x1="300.8" y1="215.1" x2="303.6" y2="215.1" stroke="#000" stroke-width="1.25"/>
<text x="279.9" y="218.14" font-size="9.2" fill="#231f20" textLength="17.4" lengthAdjust="spacingAndGlyphs" stroke="#231f20" stroke-width="0.1">1500</text>
<line x1="300.8" y1="199.5" x2="303.6" y2="199.5" stroke="#000" stroke-width="1.25"/>
<text x="279.9" y="202.54" font-size="9.2" fill="#231f20" textLength="17.4" lengthAdjust="spacingAndGlyphs" stroke="#231f20" stroke-width="0.1">2000</text>
<line x1="300.8" y1="183.9" x2="303.6" y2="183.9" stroke="#000" stroke-width="1.25"/>
<text x="279.9" y="186.94" font-size="9.2" fill="#231f20" textLength="17.4" lengthAdjust="spacingAndGlyphs" stroke="#231f20" stroke-width="0.1">2500</text>
<line x1="303" y1="261.9" x2="415.4" y2="261.9" stroke="#000" stroke-width="1.25"/>
<line x1="317.9" y1="261.9" x2="317.9" y2="264.1" stroke="#000" stroke-width="1.1"/>
<line x1="346.3" y1="261.9" x2="346.3" y2="264.1" stroke="#000" stroke-width="1.1"/>
<line x1="374.5" y1="261.9" x2="374.5" y2="264.1" stroke="#000" stroke-width="1.1"/>
<line x1="403.3" y1="261.9" x2="403.3" y2="264.1" stroke="#000" stroke-width="1.1"/>
<rect x="308.1" y="230.9" width="19.6" height="31" fill="#b1002d"/>
<line x1="317.9" y1="227.4" x2="317.9" y2="231.4" stroke="#1c1c1c" stroke-width="1.35"/>
<line x1="312.7" y1="227.4" x2="323.1" y2="227.4" stroke="#1c1c1c" stroke-width="1.7"/>
<rect x="336.5" y="201.6" width="19.6" height="60.3" fill="#2c4883"/>
<line x1="346.3" y1="195.1" x2="346.3" y2="202.1" stroke="#1c1c1c" stroke-width="1.35"/>
<line x1="341.1" y1="195.1" x2="351.5" y2="195.1" stroke="#1c1c1c" stroke-width="1.7"/>
<rect x="364.7" y="234.4" width="19.6" height="27.5" fill="#cc877c"/>
<line x1="374.5" y1="228.6" x2="374.5" y2="234.9" stroke="#1c1c1c" stroke-width="1.35"/>
<line x1="369.3" y1="228.6" x2="379.7" y2="228.6" stroke="#1c1c1c" stroke-width="1.7"/>
<rect x="393.5" y="232.1" width="19.7" height="29.8" fill="#8d96c3"/>
<line x1="403.35" y1="226.5" x2="403.35" y2="232.6" stroke="#1c1c1c" stroke-width="1.35"/>
<line x1="398.15" y1="226.5" x2="408.55" y2="226.5" stroke="#1c1c1c" stroke-width="1.7"/>
<path d="M318.3 188.9V186.9H345.6V188.9" fill="none" stroke="#111" stroke-width="1.3" />
<path d="M346.9 188.9V186.9H402.6V188.9" fill="none" stroke="#111" stroke-width="1.3" />
<circle cx="330.95" cy="183.2" r="1.2" fill="#161616"/>
<circle cx="334.65" cy="183.2" r="1.2" fill="#161616"/>
<circle cx="372.85" cy="183.2" r="1.2" fill="#161616"/>
<circle cx="376.55" cy="183.2" r="1.2" fill="#161616"/>
<text x="343.8" y="165.7" font-size="9.7" fill="#231f20" textLength="31.6" lengthAdjust="spacingAndGlyphs" stroke="#231f20" stroke-width="0.16">LT-HSC</text>
<text transform="translate(271.4,221) rotate(-90)" x="0" y="3.17" font-size="8.8" text-anchor="middle" textLength="49.6" lengthAdjust="spacingAndGlyphs" fill="#231f20" stroke="#231f20" stroke-width="0.16">DCFH-DA(MFI)</text>
<text x="312" y="274.7" font-size="8.4" fill="#231f20" textLength="11.1" lengthAdjust="spacingAndGlyphs" stroke="#231f20" stroke-width="0.16">WT</text>
<text x="331.9" y="274.7" font-size="8.4" fill="#231f20" textLength="21.73" lengthAdjust="spacingAndGlyphs" stroke="#231f20" stroke-width="0.16">SRC-3</text>
<text x="353.83" y="271.34" font-size="5.71" fill="#231f20" textLength="5.77" lengthAdjust="spacingAndGlyphs" stroke="#231f20" stroke-width="0.16">-/-</text>
<text x="368.1" y="274.7" font-size="8.4" fill="#231f20" textLength="11.6" lengthAdjust="spacingAndGlyphs" stroke="#231f20" stroke-width="0.16">WT</text>
<text x="388.9" y="274.7" font-size="8.4" fill="#231f20" textLength="21.73" lengthAdjust="spacingAndGlyphs" stroke="#231f20" stroke-width="0.16">SRC-3</text>
<text x="410.83" y="271.34" font-size="5.71" fill="#231f20" textLength="5.77" lengthAdjust="spacingAndGlyphs" stroke="#231f20" stroke-width="0.16">-/-</text>
<text x="318" y="285.2" font-size="9" fill="#231f20" text-anchor="middle" stroke="#231f20" stroke-width="0.05">+</text>
<text x="345.7" y="285.2" font-size="9" fill="#231f20" text-anchor="middle" stroke="#231f20" stroke-width="0.05">+</text>
<text x="373.9" y="285.2" font-size="9" fill="#231f20" text-anchor="middle" stroke="#231f20" stroke-width="0.05">+</text>
<text x="402.8" y="285.2" font-size="9" fill="#231f20" text-anchor="middle" stroke="#231f20" stroke-width="0.05">+</text>
<text x="305.1" y="293.6" font-size="8.4" fill="#231f20" textLength="25.6" lengthAdjust="spacingAndGlyphs" stroke="#231f20" stroke-width="0.16">Vehicle</text>
<text x="333" y="293.6" font-size="8.4" fill="#231f20" textLength="25.9" lengthAdjust="spacingAndGlyphs" stroke="#231f20" stroke-width="0.16">Vehicle</text>
<text x="365.9" y="293.7" font-size="8.4" fill="#231f20" textLength="16.9" lengthAdjust="spacingAndGlyphs" stroke="#231f20" stroke-width="0.16">NAC</text>
<text x="394.2" y="293.7" font-size="8.4" fill="#231f20" textLength="16.9" lengthAdjust="spacingAndGlyphs" stroke="#231f20" stroke-width="0.16">NAC</text>
<line x1="40.3" y1="349.2" x2="40.3" y2="430.6" stroke="#000" stroke-width="1.25"/>
<line x1="37.5" y1="430" x2="40.3" y2="430" stroke="#000" stroke-width="1.25"/>
<text x="30" y="432.9" font-size="8.8" fill="#231f20" textLength="4.1" lengthAdjust="spacingAndGlyphs" stroke="#231f20" stroke-width="0.1">0</text>
<line x1="37.5" y1="414.4" x2="40.3" y2="414.4" stroke="#000" stroke-width="1.25"/>
<text x="25.9" y="417.3" font-size="8.8" fill="#231f20" textLength="8.2" lengthAdjust="spacingAndGlyphs" stroke="#231f20" stroke-width="0.1">20</text>
<line x1="37.5" y1="398.8" x2="40.3" y2="398.8" stroke="#000" stroke-width="1.25"/>
<text x="25.9" y="401.7" font-size="8.8" fill="#231f20" textLength="8.2" lengthAdjust="spacingAndGlyphs" stroke="#231f20" stroke-width="0.1">40</text>
<line x1="37.5" y1="383.2" x2="40.3" y2="383.2" stroke="#000" stroke-width="1.25"/>
<text x="25.9" y="386.1" font-size="8.8" fill="#231f20" textLength="8.2" lengthAdjust="spacingAndGlyphs" stroke="#231f20" stroke-width="0.1">60</text>
<line x1="37.5" y1="367.6" x2="40.3" y2="367.6" stroke="#000" stroke-width="1.25"/>
<text x="25.9" y="370.5" font-size="8.8" fill="#231f20" textLength="8.2" lengthAdjust="spacingAndGlyphs" stroke="#231f20" stroke-width="0.1">80</text>
<line x1="37.5" y1="352" x2="40.3" y2="352" stroke="#000" stroke-width="1.25"/>
<text x="21.8" y="354.9" font-size="8.8" fill="#231f20" textLength="12.3" lengthAdjust="spacingAndGlyphs" stroke="#231f20" stroke-width="0.1">100</text>
<line x1="39.7" y1="430" x2="150.4" y2="430" stroke="#000" stroke-width="1.25"/>
<line x1="58.4" y1="430" x2="58.4" y2="432.2" stroke="#000" stroke-width="1.1"/>
<line x1="95.1" y1="430" x2="95.1" y2="432.2" stroke="#000" stroke-width="1.1"/>
<line x1="132.4" y1="430" x2="132.4" y2="432.2" stroke="#000" stroke-width="1.1"/>
<rect x="43.6" y="369.6" width="6.3" height="60.4" fill="#b1002d"/>
<line x1="46.75" y1="366.6" x2="46.75" y2="370.1" stroke="#1c1c1c" stroke-width="1.15"/>
<line x1="44.95" y1="366.6" x2="48.55" y2="366.6" stroke="#1c1c1c" stroke-width="1.4"/>
<rect x="51.9" y="389.7" width="6.2" height="40.3" fill="#2c4883"/>
<line x1="55" y1="385.7" x2="55" y2="390.2" stroke="#1c1c1c" stroke-width="1.15"/>
<line x1="53.2" y1="385.7" x2="56.8" y2="385.7" stroke="#1c1c1c" stroke-width="1.4"/>
<rect x="59.2" y="368.9" width="6.3" height="61.1" fill="#cc877c"/>
<line x1="62.35" y1="365.9" x2="62.35" y2="369.4" stroke="#1c1c1c" stroke-width="1.15"/>
<line x1="60.55" y1="365.9" x2="64.15" y2="365.9" stroke="#1c1c1c" stroke-width="1.4"/>
<rect x="67.3" y="375.8" width="6.3" height="54.2" fill="#8d96c3"/>
<line x1="70.45" y1="373.2" x2="70.45" y2="376.3" stroke="#1c1c1c" stroke-width="1.15"/>
<line x1="68.65" y1="373.2" x2="72.25" y2="373.2" stroke="#1c1c1c" stroke-width="1.4"/>
<rect x="80.5" y="415" width="5.8" height="15" fill="#b1002d"/>
<line x1="83.4" y1="412.3" x2="83.4" y2="415.5" stroke="#1c1c1c" stroke-width="1.15"/>
<line x1="81.6" y1="412.3" x2="85.2" y2="412.3" stroke="#1c1c1c" stroke-width="1.4"/>
<rect x="88.6" y="398.9" width="6" height="31.1" fill="#2c4883"/>
<line x1="91.6" y1="394.7" x2="91.6" y2="399.4" stroke="#1c1c1c" stroke-width="1.15"/>
<line x1="89.8" y1="394.7" x2="93.4" y2="394.7" stroke="#1c1c1c" stroke-width="1.4"/>
<rect x="96.2" y="416.2" width="6.2" height="13.8" fill="#cc877c"/>
<line x1="99.3" y1="413.4" x2="99.3" y2="416.7" stroke="#1c1c1c" stroke-width="1.15"/>
<line x1="97.5" y1="413.4" x2="101.1" y2="413.4" stroke="#1c1c1c" stroke-width="1.4"/>
<rect x="104.3" y="410.4" width="6.2" height="19.6" fill="#8d96c3"/>
<line x1="107.4" y1="407.4" x2="107.4" y2="410.9" stroke="#1c1c1c" stroke-width="1.15"/>
<line x1="105.6" y1="407.4" x2="109.2" y2="407.4" stroke="#1c1c1c" stroke-width="1.4"/>
<rect x="117.4" y="427.3" width="6.1" height="2.7" fill="#b1002d"/>
<line x1="120.45" y1="425.6" x2="120.45" y2="427.8" stroke="#1c1c1c" stroke-width="1.15"/>
<line x1="118.65" y1="425.6" x2="122.25" y2="425.6" stroke="#1c1c1c" stroke-width="1.4"/>
<rect x="125.1" y="423.6" width="5.7" height="6.4" fill="#2c4883"/>
<line x1="127.95" y1="421" x2="127.95" y2="424.1" stroke="#1c1c1c" stroke-width="1.15"/>
<line x1="126.15" y1="421" x2="129.75" y2="421" stroke="#1c1c1c" stroke-width="1.4"/>
<rect x="133.2" y="427.8" width="5.7" height="2.2" fill="#cc877c"/>
<line x1="136.05" y1="426.4" x2="136.05" y2="428.3" stroke="#1c1c1c" stroke-width="1.15"/>
<line x1="134.25" y1="426.4" x2="137.85" y2="426.4" stroke="#1c1c1c" stroke-width="1.4"/>
<rect x="141.2" y="427" width="5.8" height="3" fill="#8d96c3"/>
<line x1="144.1" y1="424.6" x2="144.1" y2="427.5" stroke="#1c1c1c" stroke-width="1.15"/>
<line x1="142.3" y1="424.6" x2="145.9" y2="424.6" stroke="#1c1c1c" stroke-width="1.4"/>
<path d="M46.2 363.8V362.1H54.1V363.8" fill="none" stroke="#111" stroke-width="1.3" />
<path d="M54.5 355.9V354.2H70.8V355.9" fill="none" stroke="#111" stroke-width="1.3" />
<path d="M63 363.8V362.1H70.8V363.8" fill="none" stroke="#111" stroke-width="1.3" />
<circle cx="48.8" cy="357.9" r="1.12" fill="#161616"/>
<circle cx="52.2" cy="357.9" r="1.12" fill="#161616"/>
<circle cx="61.4" cy="351.2" r="1.12" fill="#161616"/>
<circle cx="64.8" cy="351.2" r="1.12" fill="#161616"/>
<circle cx="65.5" cy="357.9" r="1.12" fill="#161616"/>
<circle cx="68.9" cy="357.9" r="1.12" fill="#161616"/>
<path d="M84.3 393.2V391.5H91.7V393.2" fill="none" stroke="#111" stroke-width="1.3" />
<path d="M92.3 387.5V385.8H108.4V387.5" fill="none" stroke="#111" stroke-width="1.3" />
<path d="M100.6 393.2V391.5H108.4V393.2" fill="none" stroke="#111" stroke-width="1.3" />
<circle cx="85.9" cy="388.2" r="1.12" fill="#161616"/>
<circle cx="89.3" cy="388.2" r="1.12" fill="#161616"/>
<circle cx="99.1" cy="381.8" r="1.12" fill="#161616"/>
<circle cx="102.5" cy="381.8" r="1.12" fill="#161616"/>
<circle cx="104.6" cy="387.9" r="1.12" fill="#161616"/>
<path d="M120.1 419.2V417.5H127.8V419.2" fill="none" stroke="#111" stroke-width="1.3" />
<path d="M128.1 413.8V412.1H144.4V413.8" fill="none" stroke="#111" stroke-width="1.3" />
<path d="M136.3 419.5V417.8H144.8V419.5" fill="none" stroke="#111" stroke-width="1.3" />
<circle cx="122.3" cy="413.6" r="1.12" fill="#161616"/>
<circle cx="125.7" cy="413.6" r="1.12" fill="#161616"/>
<circle cx="134.9" cy="408" r="1.12" fill="#161616"/>
<circle cx="138.3" cy="408" r="1.12" fill="#161616"/>
<circle cx="140.2" cy="415.2" r="1.12" fill="#161616"/>
<text x="79.5" y="325.9" font-size="9.7" fill="#231f20" textLength="32" lengthAdjust="spacingAndGlyphs" stroke="#231f20" stroke-width="0.16">LT-HSC</text>
<rect x="82.1" y="333.4" width="9.5" height="4.5" fill="#b1002d"/>
<rect x="82.1" y="342.2" width="9.5" height="4.5" fill="#2c4883"/>
<rect x="82.1" y="351" width="9.5" height="4.5" fill="#cc877c"/>
<rect x="82.1" y="360.5" width="9.5" height="4.7" fill="#8d96c3"/>
<text x="94.2" y="338" font-size="8" fill="#231f20" textLength="38.9" lengthAdjust="spacingAndGlyphs" stroke="#231f20" stroke-width="0.16">WT+vehicle</text>
<text x="93.8" y="347.4" font-size="8" fill="#231f20" textLength="22.2" lengthAdjust="spacingAndGlyphs" stroke="#231f20" stroke-width="0.16">SRC-3</text>
<text x="116.2" y="344.2" font-size="5.44" fill="#231f20" textLength="6" lengthAdjust="spacingAndGlyphs" stroke="#231f20" stroke-width="0.16">-/-</text>
<text x="122.8" y="347.4" font-size="8" fill="#231f20" textLength="27.4" lengthAdjust="spacingAndGlyphs" stroke="#231f20" stroke-width="0.16">+vehicle</text>
<text x="94.2" y="355.6" font-size="8" fill="#231f20" textLength="32.2" lengthAdjust="spacingAndGlyphs" stroke="#231f20" stroke-width="0.16">WT+NAC</text>
<text x="93.8" y="365.3" font-size="8" fill="#231f20" textLength="22.2" lengthAdjust="spacingAndGlyphs" stroke="#231f20" stroke-width="0.16">SRC-3</text>
<text x="116.2" y="362.1" font-size="5.44" fill="#231f20" textLength="6" lengthAdjust="spacingAndGlyphs" stroke="#231f20" stroke-width="0.16">-/-</text>
<text x="122.8" y="365.3" font-size="8" fill="#231f20" textLength="20.8" lengthAdjust="spacingAndGlyphs" stroke="#231f20" stroke-width="0.16">+NAC</text>
<text x="53.8" y="442.2" font-size="8.9" fill="#231f20" textLength="10.5" lengthAdjust="spacingAndGlyphs" stroke="#231f20" stroke-width="0.16">G0</text>
<text x="90.8" y="442.2" font-size="8.9" fill="#231f20" textLength="9.1" lengthAdjust="spacingAndGlyphs" stroke="#231f20" stroke-width="0.16">G1</text>
<text x="117.9" y="442.2" font-size="8.9" fill="#231f20" textLength="28.9" lengthAdjust="spacingAndGlyphs" stroke="#231f20" stroke-width="0.16">S/G2/M</text>
<text transform="translate(12.7,389) rotate(-90)" x="0" y="3.1" font-size="8.6" text-anchor="middle" textLength="46.6" lengthAdjust="spacingAndGlyphs" fill="#231f20" stroke="#231f20" stroke-width="0.16">Frequency (%)</text>
<text x="200" y="342.8" font-size="9" fill="#231f20" textLength="118.7" lengthAdjust="spacingAndGlyphs" stroke="#231f20" stroke-width="0.14">Schematic of NAC administration</text>
<text x="221.2" y="351.6" font-size="9" fill="#231f20" textLength="76.6" lengthAdjust="spacingAndGlyphs" stroke="#231f20" stroke-width="0.14">and competitive BMT</text>
<text x="215.8" y="370.1" font-size="9" fill="#231f20" textLength="44.4" lengthAdjust="spacingAndGlyphs" stroke="#231f20" stroke-width="0.14">Competitive</text>
<text x="212" y="378.8" font-size="9" fill="#231f20" textLength="53.3" lengthAdjust="spacingAndGlyphs" stroke="#231f20" stroke-width="0.14">transplantation</text>
<text x="169.2" y="389.8" font-size="9" fill="#231f20" textLength="39.8" lengthAdjust="spacingAndGlyphs" stroke="#231f20" stroke-width="0.14">6-week-old</text>
<path transform="translate(-194.7,320.5)" d="M360.8 77.9 C363.5 77.4 366 78.2 368.5 79.5 C371 80.7 373.5 80.9 376.0 79.6 C375.7 76.6 376.9 73.6 379.9 72.5 C382.5 71.7 385.5 71.8 387.6 72.1 L389.3 71.8 C389.6 70.8 390.1 69.8 390.6 69.8 C391.2 69.9 391.7 70.6 392.0 71.5 C394.2 71.9 396.5 72.6 397.6 73.6 C398.2 74.3 397.8 75.0 397.0 75.3 C396.0 75.6 394.5 76.0 393.4 76.7 C392.4 77.2 391.6 77.7 391.2 78.4 L390.6 80.4 L391.6 82.4 L392.2 83.4 L389.8 83.4 L389.0 82.2 C388.3 81.8 387.5 81.6 387.0 81.6 C386.0 81.7 385.2 81.8 384.7 81.9 L384.3 82.8 L384.8 84.5 L382.4 84.6 L381.2 82.8 C380.4 82.4 379.5 82.1 378.9 81.9 C377.5 81.6 376.6 81.6 376.0 81.6 C373.5 82.4 370.5 81.8 368.0 80.5 C365.5 79.2 363.3 78.6 360.9 78.9 Z" fill="#0d0d0d"/>
<line x1="204.8" y1="397.5" x2="320.7" y2="397.5" stroke="#000" stroke-width="1.5"/>
<line x1="204.8" y1="393.5" x2="204.8" y2="401.5" stroke="#000" stroke-width="1.5"/>
<line x1="320.7" y1="393.3" x2="320.7" y2="401.3" stroke="#000" stroke-width="1.5"/>
<line x1="237.7" y1="393.5" x2="237.7" y2="401.7" stroke="#000" stroke-width="1.5"/>
<line x1="237.6" y1="384.3" x2="237.6" y2="388.7" stroke="#8a1538" stroke-width="1.7"/>
<path d="M235.2 386.7L237.6 391.7L240 386.7Z" fill="#8a1538" stroke="none" stroke-width="1" />
<text x="306.5" y="390.6" font-size="9" fill="#231f20" textLength="27" lengthAdjust="spacingAndGlyphs" stroke="#231f20" stroke-width="0.14">Harvest</text>
<line x1="214.4" y1="408" x2="214.4" y2="413.5" stroke="#000" stroke-width="1.35"/>
<path d="M212.7 409.3L214.4 405.5L216.1 409.3Z" fill="#000" stroke="none" stroke-width="1" />
<line x1="290.3" y1="408.4" x2="290.3" y2="413.7" stroke="#000" stroke-width="1.35"/>
<path d="M288.6 409.7L290.3 405.9L292 409.7Z" fill="#000" stroke="none" stroke-width="1" />
<text x="227.7" y="411.7" font-size="9" fill="#231f20" textLength="25.6" lengthAdjust="spacingAndGlyphs" stroke="#231f20" stroke-width="0.14">week 0</text>
<text x="304.7" y="411.5" font-size="9" fill="#231f20" textLength="29.8" lengthAdjust="spacingAndGlyphs" stroke="#231f20" stroke-width="0.14">week 16</text>
<text x="171.9" y="423" font-size="9" fill="#231f20" textLength="73.7" lengthAdjust="spacingAndGlyphs" stroke="#231f20" stroke-width="0.14">Daily vehicle or NAC</text>
<text x="171.2" y="431.8" font-size="9" fill="#231f20" textLength="75.3" lengthAdjust="spacingAndGlyphs" stroke="#231f20" stroke-width="0.14">injections for 14 days</text>
<text x="262.2" y="423" font-size="9" fill="#231f20" textLength="94.7" lengthAdjust="spacingAndGlyphs" stroke="#231f20" stroke-width="0.14">Vechile or NAC in drinking</text>
<text x="276" y="431.8" font-size="9" fill="#231f20" textLength="66.9" lengthAdjust="spacingAndGlyphs" stroke="#231f20" stroke-width="0.14">water for 16 weeks</text>
<line x1="399.6" y1="348.8" x2="399.6" y2="431" stroke="#000" stroke-width="1.25"/>
<line x1="396.8" y1="430.4" x2="399.6" y2="430.4" stroke="#000" stroke-width="1.25"/>
<text x="390.15" y="433.53" font-size="9.5" fill="#231f20" textLength="4.45" lengthAdjust="spacingAndGlyphs" stroke="#231f20" stroke-width="0.1">0</text>
<line x1="396.8" y1="410.6" x2="399.6" y2="410.6" stroke="#000" stroke-width="1.25"/>
<text x="385.7" y="413.73" font-size="9.5" fill="#231f20" textLength="8.9" lengthAdjust="spacingAndGlyphs" stroke="#231f20" stroke-width="0.1">20</text>
<line x1="396.8" y1="390.8" x2="399.6" y2="390.8" stroke="#000" stroke-width="1.25"/>
<text x="385.7" y="393.93" font-size="9.5" fill="#231f20" textLength="8.9" lengthAdjust="spacingAndGlyphs" stroke="#231f20" stroke-width="0.1">40</text>
<line x1="396.8" y1="371" x2="399.6" y2="371" stroke="#000" stroke-width="1.25"/>
<text x="385.7" y="374.13" font-size="9.5" fill="#231f20" textLength="8.9" lengthAdjust="spacingAndGlyphs" stroke="#231f20" stroke-width="0.1">60</text>
<line x1="396.8" y1="351.2" x2="399.6" y2="351.2" stroke="#000" stroke-width="1.25"/>
<text x="385.7" y="354.33" font-size="9.5" fill="#231f20" textLength="8.9" lengthAdjust="spacingAndGlyphs" stroke="#231f20" stroke-width="0.1">80</text>
<line x1="399" y1="430.4" x2="511.6" y2="430.4" stroke="#000" stroke-width="1.25"/>
<line x1="413.6" y1="430.4" x2="413.6" y2="432.6" stroke="#000" stroke-width="1.1"/>
<line x1="442.3" y1="430.4" x2="442.3" y2="432.6" stroke="#000" stroke-width="1.1"/>
<line x1="470.4" y1="430.4" x2="470.4" y2="432.6" stroke="#000" stroke-width="1.1"/>
<line x1="498.7" y1="430.4" x2="498.7" y2="432.6" stroke="#000" stroke-width="1.1"/>
<rect x="403.6" y="380" width="20.3" height="50.4" fill="#b1002d"/>
<line x1="413.75" y1="374.6" x2="413.75" y2="380.5" stroke="#1c1c1c" stroke-width="1.35"/>
<line x1="408.55" y1="374.6" x2="418.95" y2="374.6" stroke="#1c1c1c" stroke-width="1.7"/>
<rect x="432.4" y="405.8" width="19.9" height="24.6" fill="#2c4883"/>
<line x1="442.35" y1="401.9" x2="442.35" y2="406.3" stroke="#1c1c1c" stroke-width="1.35"/>
<line x1="437.15" y1="401.9" x2="447.55" y2="401.9" stroke="#1c1c1c" stroke-width="1.7"/>
<rect x="460.4" y="379.7" width="20.1" height="50.7" fill="#cc877c"/>
<line x1="470.45" y1="374.6" x2="470.45" y2="380.2" stroke="#1c1c1c" stroke-width="1.35"/>
<line x1="465.25" y1="374.6" x2="475.65" y2="374.6" stroke="#1c1c1c" stroke-width="1.7"/>
<rect x="488.5" y="388" width="20.4" height="42.4" fill="#8d96c3"/>
<line x1="498.7" y1="383.9" x2="498.7" y2="388.5" stroke="#1c1c1c" stroke-width="1.35"/>
<line x1="493.5" y1="383.9" x2="503.9" y2="383.9" stroke="#1c1c1c" stroke-width="1.7"/>
<path d="M413.7 367.9V365.9H440.6V367.9" fill="none" stroke="#111" stroke-width="1.3" />
<path d="M443.5 356.7V354.7H498.3V356.7" fill="none" stroke="#111" stroke-width="1.3" />
<path d="M470.8 368.1V366.1H497.5V368.1" fill="none" stroke="#111" stroke-width="1.3" />
<circle cx="425.85" cy="362.3" r="1.2" fill="#161616"/>
<circle cx="429.55" cy="362.3" r="1.2" fill="#161616"/>
<circle cx="466.05" cy="351.2" r="1.2" fill="#161616"/>
<circle cx="469.75" cy="351.2" r="1.2" fill="#161616"/>
<circle cx="483.8" cy="362.7" r="1.2" fill="#161616"/>
<text transform="translate(376.3,388.4) rotate(-90)" x="0" y="3.13" font-size="8.7" text-anchor="middle" textLength="75.3" lengthAdjust="spacingAndGlyphs" fill="#231f20" stroke="#231f20" stroke-width="0.16">Donor-derived cells (%)</text>
<text x="407.7" y="442.9" font-size="8.4" fill="#231f20" textLength="12.2" lengthAdjust="spacingAndGlyphs" stroke="#231f20" stroke-width="0.16">WT</text>
<text x="428" y="442.9" font-size="8.4" fill="#231f20" textLength="21.73" lengthAdjust="spacingAndGlyphs" stroke="#231f20" stroke-width="0.16">SRC-3</text>
<text x="449.93" y="439.54" font-size="5.71" fill="#231f20" textLength="5.77" lengthAdjust="spacingAndGlyphs" stroke="#231f20" stroke-width="0.16">-/-</text>
<text x="464.3" y="442.9" font-size="8.4" fill="#231f20" textLength="11.5" lengthAdjust="spacingAndGlyphs" stroke="#231f20" stroke-width="0.16">WT</text>
<text x="485.1" y="442.9" font-size="8.4" fill="#231f20" textLength="21.73" lengthAdjust="spacingAndGlyphs" stroke="#231f20" stroke-width="0.16">SRC-3</text>
<text x="507.03" y="439.54" font-size="5.71" fill="#231f20" textLength="5.77" lengthAdjust="spacingAndGlyphs" stroke="#231f20" stroke-width="0.16">-/-</text>
<text x="413.7" y="452.4" font-size="9" fill="#231f20" text-anchor="middle" stroke="#231f20" stroke-width="0.05">+</text>
<text x="442.3" y="452.4" font-size="9" fill="#231f20" text-anchor="middle" stroke="#231f20" stroke-width="0.05">+</text>
<text x="470" y="452.4" font-size="9" fill="#231f20" text-anchor="middle" stroke="#231f20" stroke-width="0.05">+</text>
<text x="498.9" y="452.4" font-size="9" fill="#231f20" text-anchor="middle" stroke="#231f20" stroke-width="0.05">+</text>
<text x="401.5" y="461.6" font-size="8.4" fill="#231f20" textLength="25.4" lengthAdjust="spacingAndGlyphs" stroke="#231f20" stroke-width="0.16">Vehicle</text>
<text x="429.2" y="461.6" font-size="8.4" fill="#231f20" textLength="25.8" lengthAdjust="spacingAndGlyphs" stroke="#231f20" stroke-width="0.16">Vehicle</text>
<text x="462.2" y="461.6" font-size="8.4" fill="#231f20" textLength="17.1" lengthAdjust="spacingAndGlyphs" stroke="#231f20" stroke-width="0.16">NAC</text>
<text x="490.4" y="461.6" font-size="8.4" fill="#231f20" textLength="16.6" lengthAdjust="spacingAndGlyphs" stroke="#231f20" stroke-width="0.16">NAC</text>
</g>
</svg>
</body></html>
